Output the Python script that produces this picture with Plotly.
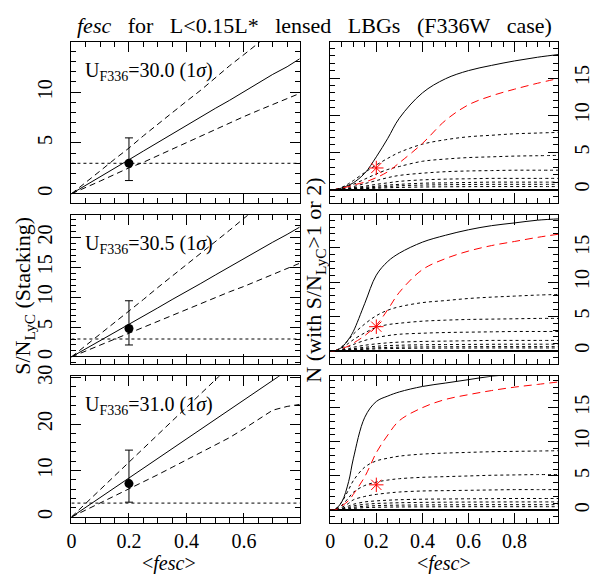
import plotly.graph_objects as go

W, H = 595, 574

# ---- left column: S/N_LyC (stacking) vs <fesc> ----
FESC_L = [0, .05, .1, .15, .2, .25, .3, .35, .4, .45, .5, .55, .6, .65, .7, .75, .8]

sn300_med = [0, 0.82, 1.66, 2.5, 3.35, 4.2, 5.05, 5.85, 6.7, 7.55, 8.4, 9.2, 10.05, 10.9, 11.75, 12.5, 13.4]
sn300_hi = [0, 1.1, 2.25, 3.4, 4.5, 5.7, 6.85, 8.0, 9.1, 10.2, 11.4, 12.6, 13.7, 14.8, 16.0, 17.1, 18.2]
sn300_lo = [0, 0.6, 1.25, 1.9, 2.55, 3.1, 3.75, 4.4, 5.0, 5.7, 6.35, 7.0, 7.6, 8.2, 8.8, 9.35, 9.95]

sn305_med = [0, 1.35, 2.75, 4.1, 5.5, 6.85, 8.2, 9.6, 10.9, 12.3, 13.7, 15.1, 16.4, 17.8, 19.2, 20.5, 21.9]
sn305_hi = [0, 1.9, 3.85, 5.8, 7.7, 9.6, 11.6, 13.5, 15.4, 17.4, 19.3, 21.2, 23.2, 25.1, 27.0, 29.0, 30.9]
sn305_lo = [0, 1.0, 2.0, 3.0, 3.95, 4.9, 5.9, 6.9, 7.9, 8.9, 9.9, 10.9, 11.8, 12.8, 13.8, 14.8, 15.8]

sn310_med = [0, 2.1, 4.2, 6.3, 8.4, 10.5, 12.6, 14.7, 16.8, 18.9, 21.0, 23.1, 25.2, 27.3, 29.4, 31.5, 33.6]
sn310_hi = [0, 2.95, 5.9, 8.85, 11.8, 14.75, 17.7, 20.6, 23.6, 26.5, 29.5, 32.4, 35.4, 38.3, 41.3, 44.2, 47.2]
sn310_lo = [0, 1.5, 3.0, 4.5, 6.0, 7.6, 9.1, 10.7, 12.3, 13.8, 15.4, 17.1, 19.0, 21.0, 23.0, 23.8, 24.3]

SN_LIMIT = 3.0
PT_FESC = 0.2
pt_sn = [3.0, 4.75, 7.2]
pt_err_up = [2.5, 4.65, 7.2]
pt_err_dn = [1.7, 2.75, 4.0]
u_mags = ["30.0", "30.5", "31.0"]

# ---- right column: N (with S/N_LyC > 1 or 2) vs <fesc> ----
FESC_R = [0, .02, .05, .08, .1, .15, .2, .25, .3, .4, .5, .6, .7, .8, .9, 1.0]

n300_sn1 = [0, 0, 0.2, 0.6, 0.9, 2.2, 4.4, 6.9, 9.6, 13.0, 14.9, 16.0, 16.7, 17.3, 17.8, 18.2]
n300_sn2 = [0, 0, 0.2, 0.4, 0.6, 1.0, 1.6, 2.4, 3.6, 6.2, 9.3, 11.4, 12.6, 13.5, 14.3, 15.0]
n300_dots = [
    [0, 0, 0.3, 0.8, 1.2, 2.3, 3.3, 4.2, 5.0, 6.1, 6.7, 7.1, 7.3, 7.5, 7.6, 7.7],
    [0, 0, 0.2, 0.5, 0.7, 1.4, 2.1, 2.7, 3.1, 3.8, 4.1, 4.3, 4.4, 4.5, 4.55, 4.6],
    [0, 0, 0.1, 0.3, 0.4, 0.8, 1.2, 1.6, 1.9, 2.2, 2.4, 2.5, 2.55, 2.6, 2.6, 2.6],
    [0, 0, 0.05, 0.15, 0.25, 0.45, 0.7, 0.9, 1.1, 1.3, 1.4, 1.45, 1.5, 1.5, 1.5, 1.5],
    [0, 0, 0.03, 0.1, 0.15, 0.3, 0.45, 0.6, 0.7, 0.85, 0.9, 0.95, 1.0, 1.0, 1.0, 1.0],
    [0, 0, 0.02, 0.07, 0.1, 0.2, 0.3, 0.4, 0.5, 0.6, 0.65, 0.68, 0.7, 0.7, 0.7, 0.7],
    [0, 0, 0.01, 0.04, 0.06, 0.12, 0.18, 0.24, 0.28, 0.34, 0.37, 0.39, 0.4, 0.4, 0.4, 0.4],
]

n305_sn1 = [0, 0, 0.5, 1.7, 2.8, 6.9, 11.0, 13.0, 14.2, 15.8, 16.8, 17.6, 18.2, 18.6, 19.0, 19.2]
n305_sn2 = [0, 0, 0.3, 0.7, 1.1, 2.2, 3.7, 6.0, 8.5, 11.8, 13.4, 14.5, 15.3, 15.9, 16.5, 17.0]
n305_dots = [
    [0, 0, 0.6, 1.6, 2.4, 3.9, 5.1, 5.9, 6.4, 7.0, 7.3, 7.6, 7.8, 7.95, 8.1, 8.2],
    [0, 0, 0.4, 1.1, 1.6, 2.6, 3.4, 3.8, 4.0, 4.3, 4.45, 4.55, 4.6, 4.65, 4.7, 4.7],
    [0, 0, 0.2, 0.6, 0.9, 1.5, 1.9, 2.2, 2.4, 2.55, 2.65, 2.7, 2.75, 2.8, 2.8, 2.8],
    [0, 0, 0.1, 0.3, 0.5, 0.8, 1.0, 1.15, 1.25, 1.35, 1.4, 1.45, 1.5, 1.5, 1.5, 1.5],
    [0, 0, 0.07, 0.2, 0.3, 0.5, 0.65, 0.75, 0.8, 0.87, 0.9, 0.92, 0.94, 0.95, 0.95, 0.95],
    [0, 0, 0.04, 0.12, 0.2, 0.32, 0.42, 0.48, 0.52, 0.56, 0.58, 0.59, 0.6, 0.6, 0.6, 0.6],
    [0, 0, 0.03, 0.08, 0.12, 0.2, 0.27, 0.31, 0.34, 0.37, 0.38, 0.39, 0.4, 0.4, 0.4, 0.4],
]

n310_sn1 = [0, 0.1, 1.2, 4.2, 7.5, 13.6, 15.9, 16.7, 17.3, 18.1, 18.6, 19.1, 19.6, 19.9, 20.2, 20.4]
n310_sn2 = [0, 0, 0.6, 1.4, 2.3, 4.9, 8.4, 11.0, 13.1, 15.0, 16.2, 16.9, 17.5, 18.0, 18.4, 18.8]
n310_dots = [
    [0, 0.1, 1.2, 3.0, 4.3, 6.3, 7.2, 7.6, 7.9, 8.2, 8.35, 8.45, 8.55, 8.6, 8.65, 8.7],
    [0, 0.05, 0.7, 1.8, 2.6, 3.6, 4.1, 4.4, 4.6, 4.8, 4.9, 5.0, 5.1, 5.15, 5.2, 5.2],
    [0, 0.03, 0.4, 1.0, 1.5, 2.0, 2.3, 2.5, 2.65, 2.8, 2.85, 2.9, 2.95, 3.0, 3.0, 3.0],
    [0, 0.02, 0.25, 0.6, 0.85, 1.2, 1.35, 1.45, 1.52, 1.6, 1.63, 1.66, 1.68, 1.7, 1.7, 1.7],
    [0, 0.01, 0.17, 0.4, 0.6, 0.85, 0.97, 1.03, 1.08, 1.13, 1.16, 1.18, 1.19, 1.2, 1.2, 1.2],
    [0, 0.01, 0.12, 0.28, 0.4, 0.57, 0.65, 0.7, 0.73, 0.76, 0.78, 0.79, 0.8, 0.8, 0.8, 0.8],
    [0, 0, 0.07, 0.17, 0.25, 0.36, 0.41, 0.44, 0.46, 0.48, 0.49, 0.5, 0.5, 0.5, 0.5, 0.5],
]
star_n = [2.9, 3.5, 3.7]

FONT = "Liberation Serif"
SP = "\u00a0"

# panel boxes in pixels (left, right) and (top, bottom)
COLS = [(67, 297), (328, 558)]
ROWS = [(31, 195), (207, 360), (372, 522)]
X_RANGE = [[0, 0.793], [0, 0.99]]
Y_RANGE_L = [[-0.9, 14.9], [-1.26, 23.8], [-1.3, 30.3]]
Y_DTICK_L = [(5, 1), (5, 1), (10, 2)]
Y_RANGE_R = [[-1.8, 19.8], [-2.0, 19.8], [-1.9, 19.6]]

fig = go.Figure()


def ax_id(r, c):
    return r * 2 + c + 1


def xy(r, c):
    i = ax_id(r, c)
    return ("x" if i == 1 else f"x{i}"), ("y" if i == 1 else f"y{i}")


left_sets = [
    (sn300_med, sn300_hi, sn300_lo),
    (sn305_med, sn305_hi, sn305_lo),
    (sn310_med, sn310_hi, sn310_lo),
]
right_sets = [
    (n300_sn1, n300_sn2, n300_dots),
    (n305_sn1, n305_sn2, n305_dots),
    (n310_sn1, n310_sn2, n310_dots),
]

for r in range(3):
    xa, ya = xy(r, 0)
    med, hi, lo = left_sets[r]
    fig.add_trace(go.Scatter(x=[0, 0.8], y=[SN_LIMIT, SN_LIMIT], mode="lines",
                             line=dict(color="black", width=1, dash="dot"), xaxis=xa, yaxis=ya))
    fig.add_trace(go.Scatter(x=FESC_L, y=med, mode="lines", line=dict(color="black", width=1),
                             xaxis=xa, yaxis=ya))
    for s in (hi, lo):
        fig.add_trace(go.Scatter(x=FESC_L, y=s, mode="lines",
                                 line=dict(color="black", width=1, dash="6px,4px"), xaxis=xa, yaxis=ya))
    fig.add_trace(go.Scatter(
        x=[PT_FESC], y=[pt_sn[r]], mode="markers",
        marker=dict(color="black", size=9),
        error_y=dict(type="data", symmetric=False, array=[pt_err_up[r]], arrayminus=[pt_err_dn[r]],
                     color="black", thickness=1, width=4),
        xaxis=xa, yaxis=ya))

    xa, ya = xy(r, 1)
    sn1, sn2, dots = right_sets[r]
    for d in dots:
        fig.add_trace(go.Scatter(x=FESC_R, y=d, mode="lines", line_shape="spline",
                                 line=dict(color="black", width=1, dash="dot"), xaxis=xa, yaxis=ya))
    fig.add_trace(go.Scatter(x=FESC_R, y=sn1, mode="lines", line_shape="spline",
                             line=dict(color="black", width=1), xaxis=xa, yaxis=ya))
    fig.add_trace(go.Scatter(x=FESC_R, y=sn2, mode="lines", line_shape="spline",
                             line=dict(color="red", width=1, dash="8px,5px"), xaxis=xa, yaxis=ya))
    fig.add_trace(go.Scatter(x=[PT_FESC], y=[star_n[r]], mode="markers",
                             marker=dict(symbol="asterisk-open", size=12, color="red",
                                         line=dict(color="red", width=1)),
                             xaxis=xa, yaxis=ya))

layout = {}
for r in range(3):
    top, bot = ROWS[r]
    ydom = [1 - bot / H, 1 - top / H]
    for c in range(2):
        i = ax_id(r, c)
        xk = "xaxis" if i == 1 else f"xaxis{i}"
        yk = "yaxis" if i == 1 else f"yaxis{i}"
        xa, ya = xy(r, c)
        left, right = COLS[c]
        common = dict(showline=True, linecolor="black", linewidth=1, mirror="ticks",
                      ticks="inside", ticklen=10, tickcolor="black", showgrid=False,
                      tickfont=dict(family=FONT, size=20, color="black"))
        layout[xk] = dict(common, domain=[left / W, right / W], range=X_RANGE[c], anchor=ya,
                          dtick=0.2, tick0=0, zeroline=False,
                          minor=dict(ticks="inside", ticklen=5, dtick=0.05, tickcolor="black"),
                          showticklabels=(r == 2), ticklabelstandoff=0)
        if c == 0:
            dt, mdt = Y_DTICK_L[r]
            layout[yk] = dict(common, domain=ydom, range=Y_RANGE_L[r], anchor=xa, dtick=dt, tick0=0,
                              minor=dict(ticks="inside", ticklen=5, dtick=mdt, tickcolor="black"),
                              zeroline=True, zerolinecolor="black", zerolinewidth=1, tickangle=-90,
                              ticklabelstandoff=10)
        else:
            layout[yk] = dict(common, domain=ydom, range=Y_RANGE_R[r], anchor=xa, dtick=5, tick0=0,
                              minor=dict(ticks="inside", ticklen=5, dtick=1, tickcolor="black"),
                              zeroline=True, zerolinecolor="black", zerolinewidth=1.5,
                              side="right", tickangle=-90, ticklabelstandoff=6)

title_words = ["<i>fesc</i>", "for", "L&lt;0.15L*", "lensed", "LBGs", "(F336W", "case)"]
annotations = [
    dict(text=(SP * 3).join(title_words), x=312 / W, y=1 - 14 / H, font=dict(size=22)),
    dict(text="S/N<sub>LyC</sub> (Stacking)", x=19 / W, y=1 - 290 / H, textangle=-90,
         font=dict(size=22)),
    dict(text="N (with S/N<sub>LyC</sub>&gt;1 or 2)", x=313 / W, y=1 - 274 / H, textangle=-90,
         font=dict(size=22)),
    dict(text="&lt;<i>fesc</i>&gt;", x=165 / W, y=1 - 563 / H, font=dict(size=20)),
    dict(text="&lt;<i>fesc</i>&gt;", x=443 / W, y=1 - 563 / H, font=dict(size=20)),
]
for r, mag in enumerate(u_mags):
    annotations.append(dict(text=f"U<sub>F336</sub>={mag} (1<i>σ</i>)", x=79 / W, xanchor="left",
                            y=1 - (ROWS[r][0] + 30) / H, font=dict(size=20)))
for a in annotations:
    a.setdefault("xref", "paper")
    a.setdefault("yref", "paper")
    a.setdefault("xanchor", "center")
    a.setdefault("yanchor", "middle")
    a.setdefault("showarrow", False)
    a["font"] = dict(family=FONT, color="black", **a["font"])

fig.update_layout(
    width=W, height=H, margin=dict(l=0, r=0, t=0, b=0),
    paper_bgcolor="white", plot_bgcolor="white", showlegend=False,
    annotations=annotations, **layout,
)

fig.write_html("out.html", config={"displayModeBar": False},
               post_script="document.body.style.margin='0';")
